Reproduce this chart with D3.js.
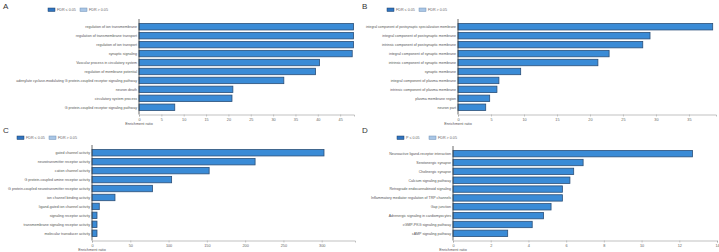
<!DOCTYPE html>
<html lang="en">
<head>
<meta charset="utf-8">
<title>Enrichment bar charts</title>
<script src="https://cdn.jsdelivr.net/npm/d3@7"></script>
<style>
  body { margin: 0; background: #fff; }
  svg text { font-family: "Liberation Sans", Arial, sans-serif; }
</style>
</head>
<body>
<script>
// Panel A - biological process
var termsA = ["regulation of ion transmembrane", "regulation of transmembrane transport", "regulation of ion transport",
  "synaptic signaling", "Vascular process in circulatory system", "regulation of membrane potential",
  "adenylate cyclase-modulating G protein-coupled receptor signaling pathway",
  "neuron death", "circulatory system process", "G protein-coupled receptor signaling pathway"];
var valuesA = [48, 48, 48, 47.7, 40.4, 39.5, 32.4, 21, 20.8, 8];
var ticksA = [0, 5, 10, 15, 20, 25, 30, 35, 40, 45];

// Panel B - cellular component
var termsB = ["integral component of postsynaptic specialization membrane", "integral component of postsynaptic membrane",
  "intrinsic component of postsynaptic membrane", "integral component of synaptic membrane",
  "intrinsic component of synaptic membrane", "synaptic membrane", "integral component of plasma membrane",
  "intrinsic component of plasma membrane", "plasma membrane region", "neuron part"];
var valuesB = [38.6, 29.1, 28, 22.9, 21.2, 9.5, 6.2, 5.9, 4.8, 4.2];
var ticksB = [0, 5, 10, 15, 20, 25, 30, 35];

// Panel C - molecular function
var termsC = ["gated channel activity", "neurotransmitter receptor activity", "cation channel activity",
  "G protein-coupled amine receptor activity", "G protein-coupled neurotransmitter receptor activity",
  "ion channel binding activity", "ligand-gated ion channel activity", "signaling receptor activity",
  "transmembrane signaling receptor activity", "molecular transducer activity"];
var valuesC = [303, 213, 153, 104, 79, 30, 9.5, 6.5, 6.5, 6.5];
var ticksC = [0, 50, 100, 150, 200, 250, 300];

// Panel D - pathways
var termsD = ["Neuroactive ligand-receptor interaction", "Serotonergic synapse", "Cholinergic synapse",
  "Calcium signaling pathway", "Retrograde endocannabinoid signaling",
  "Inflammatory mediator regulation of TRP channels", "Gap junction",
  "Adrenergic signaling in cardiomyocytes", "cGMP-PKG signaling pathway", "cAMP signaling pathway"];
var valuesD = [12.7, 6.9, 6.4, 6.2, 5.8, 5.8, 5.2, 4.8, 4.2, 2.9];
var ticksD = [0, 2, 4, 6, 8, 10, 12, 14];

var legendSig = ["FDR ≤ 0.05", "FDR ≤ 0.05", "FDR ≤ 0.05", "P ≤ 0.05"];
var legendNs = "FDR > 0.05";

var w = 719, h = 252;
var svg = d3.select("body").append("svg").attr("width", w).attr("height", h);

function drawPanel(letter, terms, values, ticks, sigText, x0, x1, xMax, top, bottom, letterX, letterY, legX, legY, leftEdge) {
  var g = svg.append("g");

  g.append("text").attr("x", letterX).attr("y", letterY)
    .attr("font-size", "8px").attr("fill", "#333").text(letter);

  // legend
  g.append("rect").attr("x", legX).attr("y", legY - 2).attr("width", 7).attr("height", 3.5)
    .attr("fill", "#2f74c0").attr("stroke", "#1d3f66").attr("stroke-width", 0.5);
  g.append("text").attr("x", legX + 9).attr("y", legY + 1.2).attr("font-size", "3.7px")
    .attr("fill", "#666").text(sigText);
  g.append("rect").attr("x", legX + 32).attr("y", legY - 2).attr("width", 7).attr("height", 3.5)
    .attr("fill", "#a9c6e6").attr("stroke", "#6f8fb5").attr("stroke-width", 0.5);
  g.append("text").attr("x", legX + 41).attr("y", legY + 1.2).attr("font-size", "3.7px")
    .attr("fill", "#666").text(legendNs);

  var xScale = d3.scaleLinear().domain([0, xMax]).range([x0, x1]);
  var yScale = d3.scaleBand().domain(terms).range([top, bottom]).padding(0.28);

  g.selectAll("rect.bar")
    .data(values)
    .enter()
    .append("rect")
    .attr("class", "bar")
    .attr("x", xScale(0))
    .attr("y", function(d, i) { return yScale(terms[i]); })
    .attr("width", function(d) { return xScale(d) - xScale(0); })
    .attr("height", yScale.bandwidth())
    .attr("fill", "#3a8bd6")
    .attr("stroke", "#2b4f78")
    .attr("stroke-width", 0.8);

  //Term labels, squeezed if they would run off the left edge
  var maxLen = x0 - 2 - leftEdge;
  g.selectAll("text.term")
    .data(terms)
    .enter()
    .append("text")
    .attr("class", "term")
    .attr("x", x0 - 2)
    .attr("y", function(d) { return yScale(d) + yScale.bandwidth() / 2 + 1.3; })
    .attr("text-anchor", "end")
    .attr("font-size", "3.6px")
    .attr("fill", "#555")
    .text(function(d) { return d; })
    .each(function() {
      var len = this.getComputedTextLength();
      if (len > maxLen) {
        d3.select(this).attr("font-size", (3.6 * maxLen / len).toFixed(2) + "px");
      }
    });

  // y axis line
  g.append("line").attr("x1", x0).attr("x2", x0).attr("y1", top - 2).attr("y2", bottom + 1.5)
    .attr("stroke", "#444").attr("stroke-width", 0.8);

  var xAxis = d3.axisBottom(xScale).tickValues(ticks).tickSize(2).tickPadding(1.5);
  var ax = g.append("g").attr("transform", "translate(0," + (bottom + 1.5) + ")").call(xAxis);
  ax.select(".domain").attr("stroke", "#999").attr("stroke-width", 0.6);
  ax.selectAll(".tick line").attr("stroke", "#999").attr("stroke-width", 0.5);
  ax.selectAll(".tick text").attr("font-size", "3.8px").attr("fill", "#666");

  g.append("text").attr("x", x0).attr("y", bottom + 12).attr("text-anchor", "middle")
    .attr("font-size", "3.8px").attr("fill", "#555").text("Enrichment ratio");
}

drawPanel("A", termsA, valuesA, ticksA, legendSig[0], 139, 354, 48.1, 21, 113, 3, 9, 48, 10, 4);
drawPanel("B", termsB, valuesB, ticksB, legendSig[1], 458, 716, 39.1, 21, 113, 362, 9, 387, 10, 366);
drawPanel("C", termsC, valuesC, ticksC, legendSig[2], 92, 355, 343.5, 147, 239, 3, 133, 17, 138, 2);
drawPanel("D", termsD, valuesD, ticksD, legendSig[3], 453, 717, 14, 148, 239, 362, 133, 397, 138, 366);
</script>
</body>
</html>
